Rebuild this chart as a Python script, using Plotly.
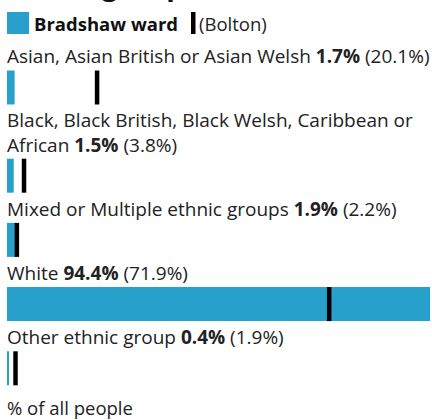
import plotly.graph_objects as go

categories = [
    "Asian, Asian British or Asian Welsh",
    "Black, Black British, Black Welsh, Caribbean or<br>African",
    "Mixed or Multiple ethnic groups",
    "White",
    "Other ethnic group",
]
ward_values = [1.7, 1.5, 1.9, 94.4, 0.4]
bolton_values = [20.1, 3.8, 2.2, 71.9, 1.9]
ward_name = "Bradshaw ward"
comparison_name = "Bolton"
title_text = "Ethnic group"
axis_note = "% of all people"

W, H = 432, 420
BLUE = "#27a0cc"
FONT = "Open Sans, Noto Sans, sans-serif"
TEXT = "#222222"
BAR_H = 34
LM, RM = 7, 2
PW = W - LM - RM


def px_x(p):
    return (p - LM) / PW


# row layout (pixel space, y axis runs top -> bottom)
first_center = 87.5
pitch = 64.2
extra_line = 24
centers = []
extra = 0
for i, c in enumerate(categories):
    extra += c.count("<br>")
    centers.append(first_center + pitch * i + extra_line * extra)

fig = go.Figure()
fig.add_trace(go.Bar(
    x=ward_values, y=centers, orientation="h", width=BAR_H,
    marker=dict(color=BLUE, line=dict(width=0)), name=ward_name,
    hoverinfo="x",
))
fig.add_trace(go.Scatter(
    x=bolton_values, y=centers, mode="markers", name=comparison_name,
    marker=dict(symbol="line-ns", size=BAR_H / 1.4, color="black",
                line=dict(width=4.5, color="black")),
    hoverinfo="x",
))

annotations = []
for cat, v, b, yc in zip(categories, ward_values, bolton_values, centers):
    txt = f"{cat} <b>{v:.1f}%</b> ({b:.1f}%)"
    annotations.append(dict(
        x=px_x(5), xref="paper", y=yc - BAR_H / 2 + 1, yref="y",
        xanchor="left", yanchor="bottom", align="left",
        text=txt, showarrow=False,
        font=dict(family=FONT, size=19, color=TEXT),
    ))

annotations.append(dict(
    x=px_x(5), xref="paper", y=centers[-1] + BAR_H / 2 + 7.5, yref="y",
    xanchor="left", yanchor="top", align="left", text=axis_note,
    showarrow=False, font=dict(family=FONT, size=18.5, color=TEXT),
))
# legend
annotations.append(dict(
    x=px_x(32), xref="paper", y=23, yref="y",
    xanchor="left", yanchor="middle", text=f"<b>{ward_name}</b>",
    showarrow=False, font=dict(family=FONT, size=18.5, color="#111111"),
))
annotations.append(dict(
    x=px_x(197), xref="paper", y=23, yref="y",
    xanchor="left", yanchor="middle", text=f"({comparison_name})",
    showarrow=False, font=dict(family=FONT, size=18.5, color=TEXT),
))
# heading (mostly above the visible area, as in the reference)
annotations.append(dict(
    x=px_x(5), xref="paper", y=5.5, yref="y",
    xanchor="left", yanchor="bottom", text=f"<b>{title_text}</b>",
    showarrow=False, font=dict(family=FONT, size=28, color="#111111"),
))

shapes = [
    dict(type="rect", xref="paper", yref="y", x0=0, x1=px_x(29),
         y0=12, y1=34, fillcolor=BLUE, line=dict(width=0)),
    dict(type="rect", xref="paper", yref="y", x0=px_x(191),
         x1=px_x(195.5), y0=12, y1=34, fillcolor="black",
         line=dict(width=0)),
]

fig.update_layout(
    width=W, height=H,
    margin=dict(l=LM, r=RM, t=0, b=0),
    paper_bgcolor="white", plot_bgcolor="white",
    showlegend=False,
    xaxis=dict(range=[0, max(ward_values)], visible=False, fixedrange=True),
    yaxis=dict(range=[H, 0], visible=False, fixedrange=True),
    annotations=annotations, shapes=shapes,
    font=dict(family=FONT),
)
fig.write_html("out.html", config={"displayModeBar": False},
               post_script="document.body.style.margin='0';")
